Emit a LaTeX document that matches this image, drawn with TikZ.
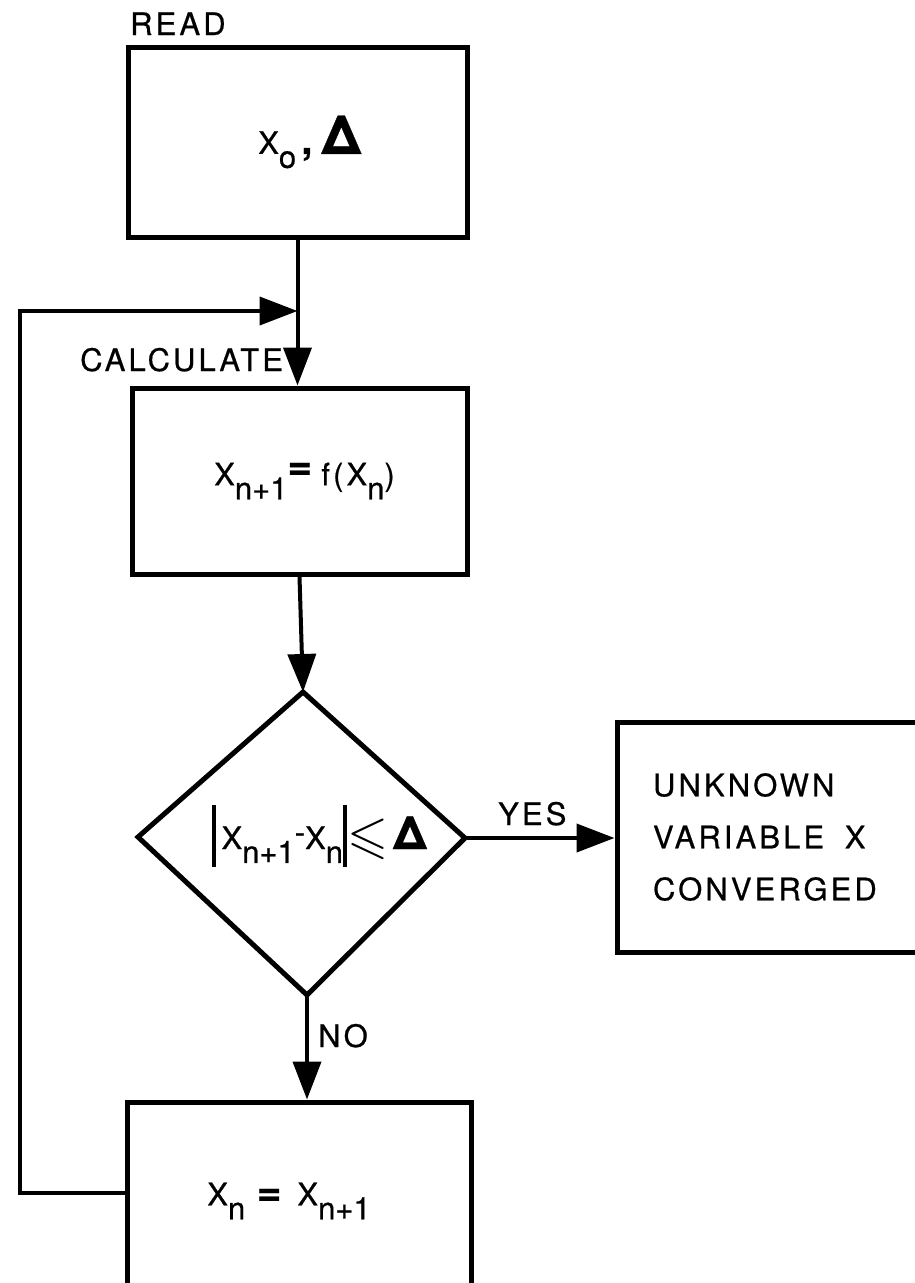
\documentclass[tikz,border=0pt]{standalone}
\usepackage{amssymb}
\usepackage{graphicx}
\usepackage{fontspec}
\setmainfont{TeX Gyre Heros}[LetterSpace=10, FakeBold=0.6]
\newfontfamily\tightf{TeX Gyre Heros}[FakeBold=0.6]
\usetikzlibrary{arrows.meta}
\newcommand\sbs[1]{\raisebox{-0.45em}{\tightf #1}}
\newcommand\bigeq{{\fontsize{42}{42}\selectfont\textbf{=}}}
\newcommand\delt[1]{{\fontsize{#1}{#1}\selectfont\textbf{Δ}}}
\begin{document}
\begin{tikzpicture}[x=1pt,y=-1pt,
  every node/.style={font=\fontsize{31}{37}\selectfont, inner sep=0pt},
  box/.style={draw, line width=5pt, rectangle, inner sep=0pt},
  conn/.style={line width=4pt, line join=miter, -{Triangle[length=38pt,width=28pt]}},
  lbl/.style={anchor=base west}]
\useasboundingbox (0,0) rectangle (914,1283);
% boxes
\node[box, minimum width=339pt, minimum height=190pt] (read) at (297.5,142)
  {\hspace*{30pt}X\sbs{o}\,{\fontsize{40}{40}\selectfont\textbf{,}}\,\delt{54}};
\node[box, minimum width=335pt, minimum height=186pt] (calc) at (299.5,481)
  {\hspace*{10pt}X\sbs{n+1}\raisebox{6pt}{\bigeq}\,f(X\sbs{n})};
\node[box, minimum width=308pt, minimum height=230pt, text width=236pt, align=left,
  font=\fontsize{31}{52}\selectfont] (conv) at (771,837)
  {UNKNOWN\\VARIABLE\ \ X\\CONVERGED};
\node[box, minimum width=344pt, minimum height=198pt] (upd) at (299,1201)
  {X\sbs{n}\ \bigeq\ X\sbs{n+1}\hspace*{20pt}};
% decision diamond
\coordinate (dt) at (303,692);
\coordinate (dr) at (465,838);
\coordinate (db) at (307,995);
\coordinate (dl) at (138,837);
\draw[line width=5pt, line join=miter] (dt) -- (dr) -- (db) -- (dl) -- cycle;
\node (cond) at (322,836)
  {\rule[-18pt]{4pt}{62pt}\,X\sbs{n+1}\raisebox{6pt}{-}X\sbs{n}\rule[-18pt]{4pt}{62pt}\raisebox{-3pt}{\scalebox{1.7}{$\leqslant$}}\,\delt{46}};
% labels
\node[lbl] (lread) at (130,35) {READ};
\node[lbl] (lcalc) at (80,371) {CALCULATE};
\node[lbl] (lyes) at (498,825) {YES};
\node[lbl] (lno) at (318,1047) {NO};
% connectors
\coordinate (lb) at (20,1193);
\coordinate (lt) at (20,311);
\coordinate (jn) at (297.5,311);
\draw[conn] (read.south) -- (read.south |- calc.north);
\draw[conn] (calc.south) -- (dt);
\draw[conn] (dr) -- (dr -| conv.west);
\draw[conn] (db) -- (db |- upd.north);
\draw[conn] (upd.west |- lb) -- (lb) -- (lt) -- (jn);
\end{tikzpicture}
\end{document}
